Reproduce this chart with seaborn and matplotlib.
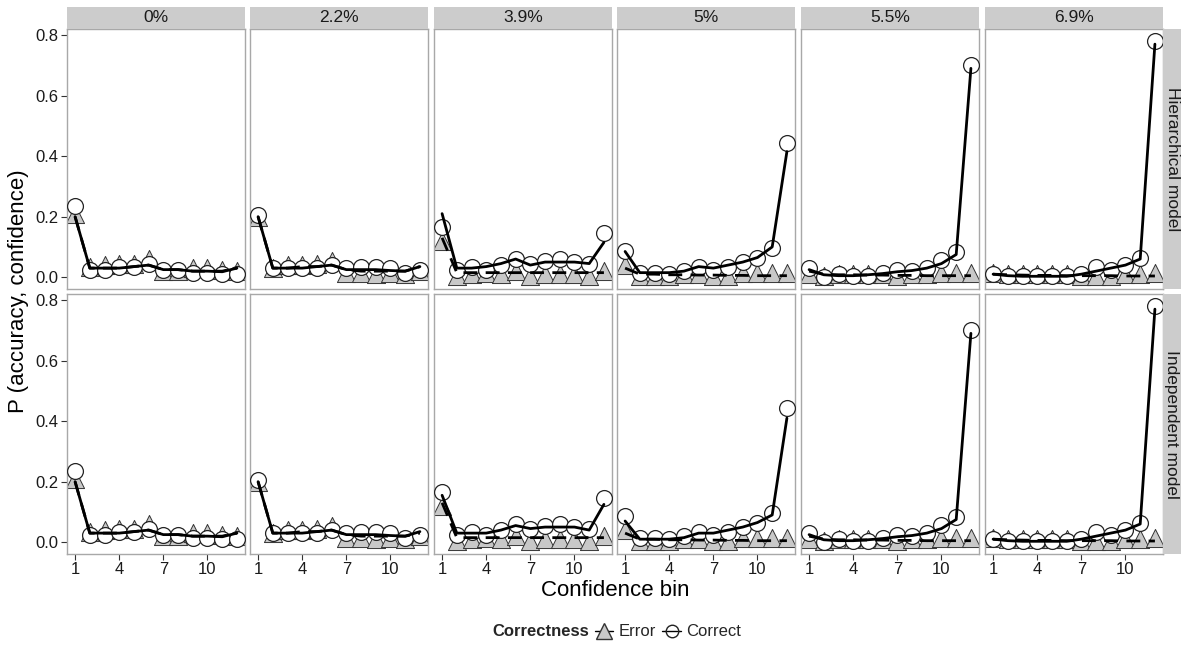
import numpy as np
import pandas as pd
import matplotlib
matplotlib.use("Agg")
import matplotlib.pyplot as plt
from matplotlib.lines import Line2D
from matplotlib.patches import Rectangle
import seaborn as sns

sns.set_style("white")
plt.rcParams['font.family'] = ['Liberation Sans', 'DejaVu Sans']

bins = list(range(1, 13))
conditions = ["0%", "2.2%", "3.9%", "5%", "5.5%", "6.9%"]
models = ["Hierarchical model", "Independent model"]

# observed data (points), same in both rows
err_obs = {
    "0%":   [0.21, 0.035, 0.04, 0.045, 0.045, 0.06, 0.02, 0.02, 0.03, 0.03, 0.025, 0.02],
    "2.2%": [0.20, 0.03, 0.04, 0.04, 0.045, 0.055, 0.015, 0.015, 0.01, 0.015, 0.01, 0.02],
    "3.9%": [0.12, 0.005, 0.01, 0.015, 0.01, 0.02, 0.005, 0.01, 0.01, 0.01, 0.005, 0.02],
    "5%":   [0.04, 0.005, 0.005, 0.005, 0.01, 0.01, 0.005, 0.005, 0.015, 0.015, 0.015, 0.015],
    "5.5%": [0.01, 0.005, 0.01, 0.01, 0.01, 0.01, 0.005, 0.01, 0.01, 0.015, 0.015, 0.015],
    "6.9%": [0.015, 0.01, 0.01, 0.01, 0.01, 0.01, 0.005, 0.005, 0.005, 0.01, 0.01, 0.015],
}
cor_obs = {
    "0%":   [0.235, 0.025, 0.025, 0.035, 0.035, 0.045, 0.025, 0.025, 0.015, 0.015, 0.01, 0.01],
    "2.2%": [0.205, 0.03, 0.03, 0.03, 0.03, 0.04, 0.03, 0.035, 0.035, 0.03, 0.015, 0.025],
    "3.9%": [0.165, 0.025, 0.035, 0.025, 0.04, 0.06, 0.045, 0.055, 0.06, 0.05, 0.045, 0.147],
    "5%":   [0.085, 0.013, 0.015, 0.01, 0.02, 0.033, 0.025, 0.035, 0.05, 0.065, 0.095, 0.443],
    "5.5%": [0.03, 0.0, 0.01, 0.005, 0.005, 0.015, 0.025, 0.02, 0.03, 0.056, 0.083, 0.70],
    "6.9%": [0.01, 0.005, 0.005, 0.005, 0.005, 0.005, 0.01, 0.035, 0.025, 0.04, 0.065, 0.78],
}
# model predictions (lines)
err_hier = {
    "0%":   [0.20, 0.03, 0.03, 0.03, 0.035, 0.04, 0.025, 0.025, 0.02, 0.02, 0.02, 0.03],
    "2.2%": [0.20, 0.03, 0.03, 0.035, 0.035, 0.04, 0.025, 0.02, 0.02, 0.02, 0.02, 0.035],
    "3.9%": [0.13, 0.015, 0.015, 0.015, 0.015, 0.015, 0.015, 0.015, 0.015, 0.015, 0.015, 0.015],
    "5%":   [0.03, 0.01, 0.01, 0.008, 0.008, 0.007, 0.007, 0.006, 0.006, 0.005, 0.005, 0.005],
    "5.5%": [0.02, 0.01, 0.008, 0.008, 0.007, 0.007, 0.006, 0.006, 0.005, 0.005, 0.005, 0.005],
    "6.9%": [0.01, 0.008, 0.007, 0.006, 0.006, 0.005, 0.005, 0.005, 0.005, 0.004, 0.004, 0.004],
}
cor_hier = {
    "0%":   [0.20, 0.03, 0.03, 0.03, 0.035, 0.04, 0.025, 0.025, 0.02, 0.02, 0.018, 0.03],
    "2.2%": [0.20, 0.03, 0.03, 0.03, 0.035, 0.04, 0.025, 0.025, 0.025, 0.022, 0.02, 0.035],
    "3.9%": [0.21, 0.03, 0.03, 0.035, 0.045, 0.06, 0.04, 0.05, 0.05, 0.05, 0.045, 0.115],
    "5%":   [0.085, 0.015, 0.015, 0.015, 0.02, 0.035, 0.03, 0.04, 0.05, 0.065, 0.10, 0.415],
    "5.5%": [0.025, 0.008, 0.005, 0.005, 0.008, 0.012, 0.018, 0.022, 0.03, 0.045, 0.075, 0.69],
    "6.9%": [0.01, 0.005, 0.003, 0.003, 0.003, 0.003, 0.01, 0.02, 0.03, 0.04, 0.06, 0.77],
}
err_ind = {
    "0%":   [0.20, 0.03, 0.03, 0.03, 0.035, 0.04, 0.025, 0.025, 0.02, 0.02, 0.02, 0.03],
    "2.2%": [0.20, 0.03, 0.03, 0.035, 0.035, 0.04, 0.025, 0.02, 0.02, 0.02, 0.02, 0.03],
    "3.9%": [0.13, 0.015, 0.015, 0.015, 0.015, 0.015, 0.015, 0.015, 0.015, 0.015, 0.015, 0.015],
    "5%":   [0.03, 0.01, 0.01, 0.008, 0.008, 0.007, 0.007, 0.006, 0.006, 0.005, 0.005, 0.005],
    "5.5%": [0.02, 0.01, 0.008, 0.008, 0.007, 0.007, 0.006, 0.006, 0.005, 0.005, 0.005, 0.005],
    "6.9%": [0.01, 0.008, 0.007, 0.006, 0.006, 0.005, 0.005, 0.005, 0.005, 0.004, 0.004, 0.004],
}
cor_ind = {
    "0%":   [0.20, 0.03, 0.03, 0.03, 0.035, 0.04, 0.025, 0.025, 0.02, 0.02, 0.018, 0.03],
    "2.2%": [0.20, 0.03, 0.03, 0.03, 0.035, 0.04, 0.025, 0.025, 0.025, 0.022, 0.02, 0.035],
    "3.9%": [0.155, 0.03, 0.03, 0.03, 0.04, 0.055, 0.045, 0.05, 0.05, 0.05, 0.04, 0.125],
    "5%":   [0.07, 0.01, 0.01, 0.01, 0.015, 0.03, 0.03, 0.04, 0.05, 0.065, 0.09, 0.41],
    "5.5%": [0.025, 0.008, 0.005, 0.005, 0.008, 0.012, 0.018, 0.022, 0.03, 0.045, 0.075, 0.69],
    "6.9%": [0.01, 0.005, 0.003, 0.003, 0.003, 0.003, 0.01, 0.02, 0.03, 0.04, 0.06, 0.77],
}

model_lines = {
    "Hierarchical model": (err_hier, cor_hier),
    "Independent model": (err_ind, cor_ind),
}

W, H = 1181, 646
fig = plt.figure(figsize=(W / 100, H / 100), dpi=100)

col_left = [67, 250, 434, 617, 801, 985]
pw = 178
row_top = [29, 294]
ph = 260
strip_h = 22
border_col = "#A8A8A8"
strip_col = "#CCCCCC"
tri_fill = "#C8C8C8"


def fx(px):
    return px / W


def fy(py):
    return 1 - py / H


for r, model in enumerate(models):
    err_m, cor_m = model_lines[model]
    for c, cond in enumerate(conditions):
        x0 = col_left[c]
        y0 = row_top[r]
        ax = fig.add_axes([fx(x0), fy(y0 + ph), pw / W, ph / H])
        pts = pd.DataFrame({
            "bin": bins * 2,
            "p": err_obs[cond] + cor_obs[cond],
            "Correctness": ["Error"] * 12 + ["Correct"] * 12,
        })
        lines = pd.DataFrame({
            "bin": bins * 2,
            "p": err_m[cond] + cor_m[cond],
            "Correctness": ["Error"] * 12 + ["Correct"] * 12,
        })
        sns.scatterplot(data=pts[pts.Correctness == "Error"], x="bin", y="p", ax=ax,
                        marker="^", s=170, color=tri_fill, edgecolor="#333333",
                        linewidth=0.7, zorder=2, legend=False)
        sns.scatterplot(data=pts[pts.Correctness == "Correct"], x="bin", y="p", ax=ax,
                        marker="o", s=130, color="white", edgecolor="#222222",
                        linewidth=0.9, zorder=3, legend=False)
        sns.lineplot(data=lines[lines.Correctness == "Error"], x="bin", y="p", ax=ax,
                     color="black", linewidth=2.0, zorder=4, legend=False)
        ax.lines[-1].set_dashes([5, 3])
        sns.lineplot(data=lines[lines.Correctness == "Correct"], x="bin", y="p", ax=ax,
                     color="black", linewidth=2.0, zorder=5, legend=False)

        ax.set_xlim(0.45, 12.55)
        ax.set_ylim(-0.039, 0.82)
        ax.set_xticks([1, 4, 7, 10])
        ax.set_yticks([0.0, 0.2, 0.4, 0.6, 0.8])
        ax.set_xlabel("")
        ax.set_ylabel("")
        ax.grid(False)
        for sp in ax.spines.values():
            sp.set_color(border_col)
            sp.set_linewidth(1.0)
            sp.set_visible(True)
        ax.tick_params(axis="both", which="both", length=4, width=0.8, color="#333333",
                       labelsize=12, labelcolor="#1A1A1A", pad=2,
                       left=(c == 0), bottom=(r == 1),
                       labelleft=(c == 0), labelbottom=(r == 1))
        if c == 0:
            ax.set_yticklabels(["0.0", "0.2", "0.4", "0.6", "0.8"])

        if r == 0:
            fig.patches.append(Rectangle((fx(x0), fy(y0)), pw / W, strip_h / H,
                                         transform=fig.transFigure, facecolor=strip_col,
                                         edgecolor="none", zorder=0))
            fig.text(fx(x0 + pw / 2), fy(y0 - strip_h / 2), cond, ha="center", va="center",
                     fontsize=12.5, color="#1A1A1A")
    fig.patches.append(Rectangle((fx(1163), fy(row_top[r] + ph)), 18 / W, ph / H,
                                 transform=fig.transFigure, facecolor=strip_col,
                                 edgecolor="none", zorder=0))
    fig.text(fx(1172), fy(row_top[r] + ph / 2), model, ha="center", va="center",
             rotation=-90, fontsize=12.5, color="#1A1A1A")

fig.text(fx(19), fy(291), "P (accuracy, confidence)", rotation=90, ha="center",
         va="center", fontsize=16, color="black")
fig.text(fx(615), fy(591), "Confidence bin", ha="center", va="center",
         fontsize=16, color="black")

fig.text(fx(589), fy(632), "Correctness", ha="right", va="center", fontsize=12,
         fontweight="bold")
handles = [
    Line2D([0], [0], color="black", linestyle="-", linewidth=1.0, marker="^",
           markersize=11, markerfacecolor=tri_fill, markeredgecolor="#333333"),
    Line2D([0], [0], color="black", linestyle="-", linewidth=1.0, marker="o",
           markersize=9, markerfacecolor="none", markeredgecolor="#222222"),
]
fig.legend(handles, ["Error", "Correct"], loc="center left",
           bbox_to_anchor=(fx(595), fy(632)), ncol=2, frameon=False, fontsize=12,
           handlelength=1.1, handletextpad=0.3, columnspacing=0.4, borderpad=0,
           borderaxespad=0)

fig.savefig("out.png", dpi=100)
